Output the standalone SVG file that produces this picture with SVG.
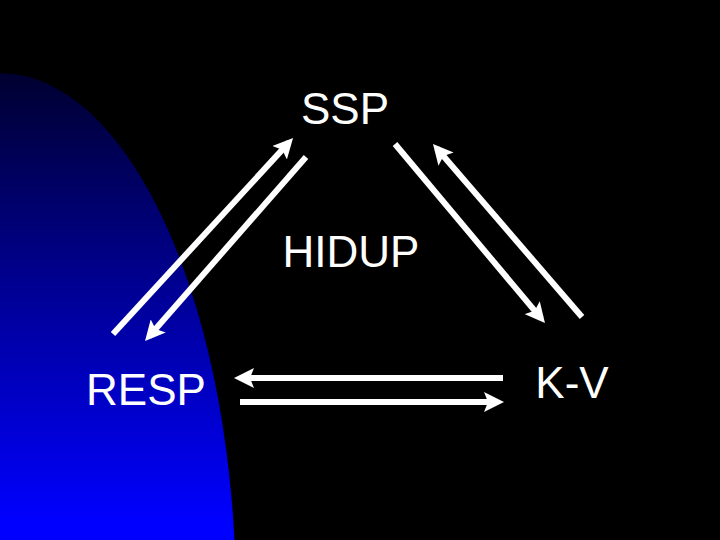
<svg xmlns="http://www.w3.org/2000/svg" width="720" height="540" viewBox="0 0 720 540">
<defs>
<linearGradient id="blueGrad" x1="0" y1="0" x2="0" y2="1" gradientUnits="objectBoundingBox">
<stop offset="0" stop-color="#000030"/>
<stop offset="0.85" stop-color="#0000ff"/>
<stop offset="1" stop-color="#0000ff"/>
</linearGradient>
<marker id="head" viewBox="0 0 20 20" refX="14" refY="10" markerWidth="20" markerHeight="20" markerUnits="userSpaceOnUse" orient="auto">
<path d="M0,0 L20,10 L0,20 L4,10 Z" fill="#ffffff"/>
</marker>
<style>
.lbl{font-family:"Liberation Sans",Arial,sans-serif;font-size:44px;fill:#ffffff;text-anchor:middle}
.arr{stroke:#ffffff;stroke-width:6;fill:none;marker-end:url(#head)}
</style>
</defs>
<rect width="720" height="540" fill="#000000"/>
<path d="M0,73 A236,527 0 0 1 236,600 L0,600 Z" fill="url(#blueGrad)"/>
<g id="connectors">
<line class="arr" x1="113" y1="334" x2="289" y2="142.4"/>
<line class="arr" x1="306" y1="157" x2="149" y2="336.5"/>
<line class="arr" x1="395" y1="144" x2="541.1" y2="318.4"/>
<line class="arr" x1="582" y1="317" x2="436.9" y2="148.5"/>
<line class="arr" x1="503" y1="378" x2="240" y2="378"/>
<line class="arr" x1="240" y1="402" x2="498" y2="402"/>
</g>
<g id="SSP"><text class="lbl" x="345" y="124">SSP</text></g>
<g id="HIDUP"><text class="lbl" x="351" y="267">HIDUP</text></g>
<g id="RESP"><text class="lbl" x="146" y="405">RESP</text></g>
<g id="KV"><text class="lbl" x="572" y="398">K-V</text></g>
</svg>
